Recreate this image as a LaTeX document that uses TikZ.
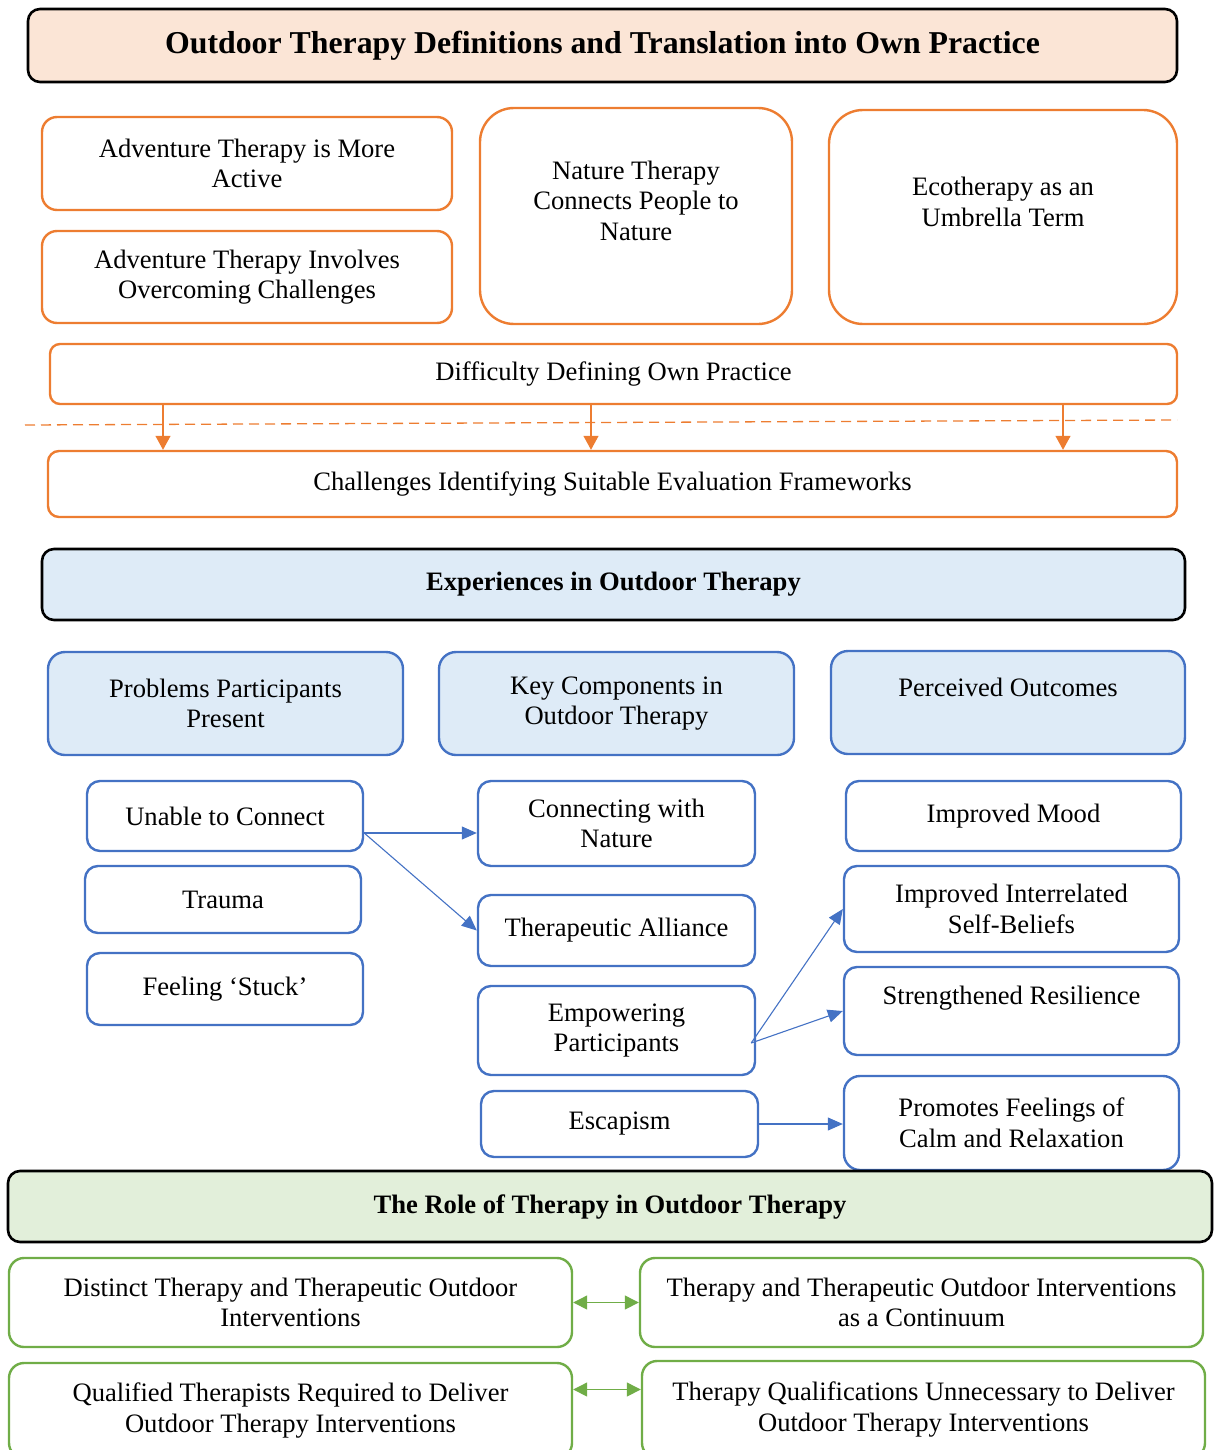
\documentclass[tikz,border=0pt]{standalone}
\usepackage{fontspec}
\setmainfont{Liberation Serif}
\usepackage{tikz}
\usetikzlibrary{arrows.meta,calc}

\definecolor{ored}{HTML}{ED7D31}
\definecolor{bblue}{HTML}{4472C4}
\definecolor{ggreen}{HTML}{70AD47}
\definecolor{ofill}{HTML}{FBE5D6}
\definecolor{bfill}{HTML}{DEEBF7}
\definecolor{gfill}{HTML}{E2EFDA}

\begin{document}
\begin{tikzpicture}[x=1pt,y=-1pt,
  txt/.style={font=\fontsize{26.6}{30.6}\selectfont, align=center, inner sep=2pt},
  title/.style={txt, draw=black, line width=2.6pt, rounded corners=12, font=\fontsize{26.6}{30.6}\selectfont\bfseries},
  obox/.style={txt, draw=ored, fill=white, line width=2.4pt, rounded corners=15},
  bbox/.style={txt, draw=bblue, fill=white, line width=2.4pt, rounded corners=13},
  bhead/.style={bbox, fill=bfill, rounded corners=17},
  gbox/.style={txt, draw=ggreen, fill=white, line width=2.4pt, rounded corners=15},
  oarrow/.style={draw=ored, line width=1.3pt, -{Triangle[length=14,width=15]}},
  barrow/.style={draw=bblue, line width=1.1pt, -{Triangle[length=15,width=13]}},
  garrow/.style={draw=ggreen, line width=1.3pt, {Triangle[length=14,width=14]}-{Triangle[length=14,width=14]}},
]
\useasboundingbox (0,0) rectangle (1213,1450);

% --- definitions block
\node[title, fill=ofill, minimum width=1149, minimum height=73, font=\fontsize{31.8}{36}\selectfont\bfseries] (defTitle) at (602.5,45.5) {Outdoor Therapy Definitions and Translation into Own Practice};
\node[obox, minimum width=410, minimum height=93] (advMore) at (247,163.5) {Adventure Therapy is More\\Active};
\node[obox, minimum width=410, minimum height=92] (advChal) at (247,277) {Adventure Therapy Involves\\Overcoming Challenges};
\node[obox, minimum width=312, minimum height=216, rounded corners=34] (natCon) at (636,216) {Nature Therapy\\Connects People to\\Nature\\~};
\node[obox, minimum width=348, minimum height=214, rounded corners=34] (ecoUmb) at (1003,217) {Ecotherapy as an\\Umbrella Term\\~};
\node[obox, minimum width=1127, minimum height=60, rounded corners=10] (diffDef) at (613.5,374) {Difficulty Defining Own Practice};
\node[obox, minimum width=1129, minimum height=66, rounded corners=11] (chalEval) at (612.5,484) {Challenges Identifying Suitable Evaluation Frameworks};

\coordinate (dashL) at (25,425);
\coordinate (dashR) at (1177,420);
\draw[ored, line width=1.3pt, dash pattern=on 10pt off 6pt] (dashL) -- (dashR);
\foreach \xa [count=\i] in {163,591,1063} {
  \coordinate (drop\i) at (\xa,0);
  \draw[oarrow] (diffDef.south -| drop\i) -- (chalEval.north -| drop\i);
}

% --- experiences block
\node[title, fill=bfill, minimum width=1143, minimum height=71] (expTitle) at (613.5,584.5) {Experiences in Outdoor Therapy};
\node[bhead, minimum width=355, minimum height=103] (probHead) at (225.5,703.5) {Problems Participants\\Present};
\node[bhead, minimum width=355, minimum height=103] (keyHead) at (616.5,703.5) {Key Components in\\Outdoor Therapy};
\node[bhead, minimum width=354, minimum height=103] (outHead) at (1008,702.5) {Perceived Outcomes\\~};

\node[bbox, minimum width=276, minimum height=70] (unable) at (225,816) {Unable to Connect};
\node[bbox, minimum width=276, minimum height=67] (trauma) at (223,899.5) {Trauma};
\node[bbox, minimum width=276, minimum height=72] (stuck) at (225,989) {Feeling `Stuck'};

\node[bbox, minimum width=277, minimum height=85] (connNat) at (616.5,823.5) {Connecting with\\Nature};
\node[bbox, minimum width=277, minimum height=71] (alliance) at (616.5,930.5) {Therapeutic Alliance};
\node[bbox, minimum width=277, minimum height=89] (empower) at (616.5,1030.5) {Empowering\\Participants};
\node[bbox, minimum width=277, minimum height=66] (escape) at (619.5,1124) {Escapism};

\node[bbox, minimum width=335, minimum height=70] (mood) at (1013.5,816) {Improved Mood};
\node[bbox, minimum width=335, minimum height=86] (selfBel) at (1011.5,909) {Improved Interrelated\\Self-Beliefs};
\node[bbox, minimum width=335, minimum height=88] (resil) at (1011.5,1011) {Strengthened Resilience\\~};
\node[bbox, minimum width=335, minimum height=94, rounded corners=16] (calm) at (1011.5,1123) {Promotes Feelings of\\Calm and Relaxation};

\coordinate (uOut) at ([yshift=-17]unable.east);
\coordinate (eOut) at ([xshift=-5,yshift=-12.5]empower.east);
\draw[barrow] (uOut) -- (uOut -| connNat.west);
\draw[barrow] (uOut) -- (alliance.west);
\draw[barrow] (eOut) -- (selfBel.west);
\draw[barrow] (eOut) -- (resil.west);
\draw[barrow] (escape.east) -- (escape.east -| calm.west);

% --- role of therapy block
\node[title, fill=gfill, minimum width=1204, minimum height=71] (roleTitle) at (610,1206.5) {The Role of Therapy in Outdoor Therapy};
\node[gbox, minimum width=563, minimum height=89] (distinct) at (290.5,1302.5) {Distinct Therapy and Therapeutic Outdoor\\Interventions};
\node[gbox, minimum width=563, minimum height=89] (contin) at (921.5,1302.5) {Therapy and Therapeutic Outdoor Interventions\\as a Continuum};
\node[gbox, minimum width=563, minimum height=95] (qualReq) at (290.5,1410.5) {Qualified Therapists Required to Deliver\\Outdoor Therapy Interventions};
\node[gbox, minimum width=563, minimum height=97] (qualUnn) at (923.5,1409.5) {Therapy Qualifications Unnecessary to Deliver\\Outdoor Therapy Interventions};

\draw[garrow] (distinct.east) -- (contin.west);
\draw[garrow] ([yshift=21]qualReq.east) -- ([yshift=21]qualReq.east -| qualUnn.west);
\end{tikzpicture}
\end{document}
